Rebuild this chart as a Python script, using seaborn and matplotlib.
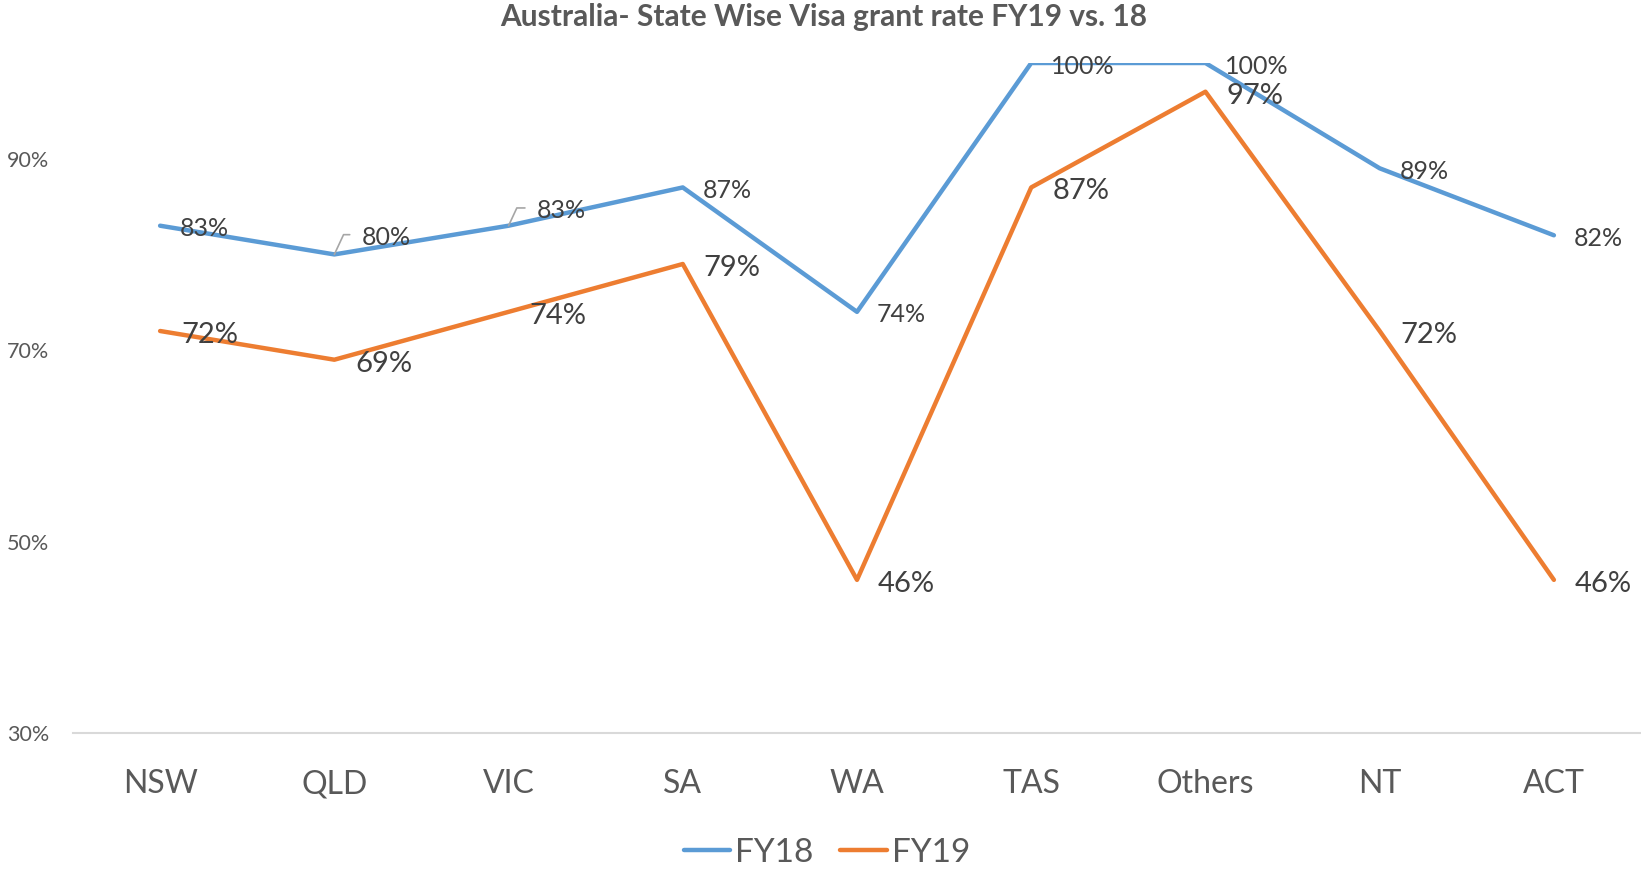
import matplotlib
matplotlib.use("Agg")
import matplotlib.pyplot as plt
import seaborn as sns
import pandas as pd

states = ["NSW", "QLD", "VIC", "SA", "WA", "TAS", "Others", "NT", "ACT"]
fy18 = [83, 80, 83, 87, 74, 100, 100, 89, 82]
fy19 = [72, 69, 74, 79, 46, 87, 97, 72, 46]
series_names = ["FY18", "FY19"]
yticks = [30, 50, 70, 90]
title = "Australia- State Wise Visa grant rate FY19 vs. 18"

BLUE = "#5B9BD5"
ORANGE = "#ED7D31"
GRAY_TXT = "#595959"
LABEL_TXT = "#404040"

sns.set_theme(style="white")
plt.rcParams["font.family"] = ["Lato", "DejaVu Sans"]

df = pd.DataFrame({
    "State": states * 2,
    "Rate": fy18 + fy19,
    "Year": [series_names[0]] * len(states) + [series_names[1]] * len(states),
})

fig = plt.figure(figsize=(16.41, 8.73), dpi=100)
ax = fig.add_axes([73 / 1641, 1 - 733 / 873, 1 - 73 / 1641, (733 - 63) / 873])

sns.lineplot(data=df, x="State", y="Rate", hue="Year", palette=[BLUE, ORANGE],
             linewidth=3.2, sort=False, ax=ax, legend=True)

ax.set_xlim(-0.5, len(states) - 0.5)
ax.set_ylim(30, 100)
ax.set_yticks(yticks)
ax.set_yticklabels([f"{v}%" for v in yticks], color=GRAY_TXT, fontsize=15.5)
ax.set_xticks(range(len(states)))
ax.set_xticklabels(states, color=GRAY_TXT, fontsize=23)
ax.tick_params(axis="y", length=0, pad=17)
ax.tick_params(axis="x", length=0, pad=26)
ax.set_xlabel("")
ax.set_ylabel("")
for s in ["top", "right", "left"]:
    ax.spines[s].set_visible(False)
ax.spines["bottom"].set_color("#D9D9D9")
ax.spines["bottom"].set_linewidth(1.5)
ax.grid(False)

# data labels (Excel "right" position); two blue labels moved up with leader lines
moved = {1: (27, 17), 2: (28, 15)}
for i, v in enumerate(fy18):
    if i in moved:
        dx, dy = moved[i]
        ax.annotate(f"{v}%", xy=(i, v), xytext=(dx, dy), textcoords="offset pixels",
                    ha="left", va="center", fontsize=18, color=LABEL_TXT,
                    arrowprops=dict(arrowstyle="-", color="#A6A6A6", lw=1.2,
                                    connectionstyle="angle,angleA=0,angleB=65,rad=0",
                                    relpos=(0, 0.62), shrinkA=6, shrinkB=0))
    else:
        ax.annotate(f"{v}%", xy=(i, v), xytext=(20, -3), textcoords="offset pixels",
                    ha="left", va="center", fontsize=18, color=LABEL_TXT)
for i, v in enumerate(fy19):
    ax.annotate(f"{v}%", xy=(i, v), xytext=(21, -4), textcoords="offset pixels",
                ha="left", va="center", fontsize=21, color=LABEL_TXT)

handles, labels = ax.get_legend_handles_labels()
ax.get_legend().remove()
fig.legend(handles, labels, loc="center", bbox_to_anchor=(0.504, 1 - 853 / 873),
           ncol=2, frameon=False, fontsize=24, labelcolor=GRAY_TXT,
           handlelength=1.4, handletextpad=0.15, columnspacing=0.8)

fig.text(0.502, 1 - 17 / 873, title, ha="center", va="center", fontsize=21.5,
         fontweight="bold", color=GRAY_TXT)

fig.savefig("out.png", dpi=100, facecolor="white")
